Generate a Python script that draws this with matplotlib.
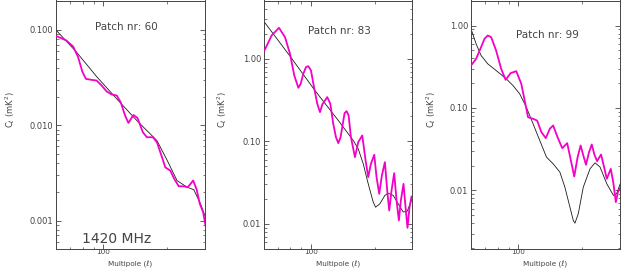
import matplotlib
matplotlib.use('Agg')
import matplotlib.pyplot as plt
from matplotlib.ticker import FixedLocator, FixedFormatter, LogLocator, NullFormatter

# ---------------- data ----------------
patch_names = ['Patch nr: 60', 'Patch nr: 83', 'Patch nr: 99']

# Patch 60
ell_p60_black = [60.3, 74.9, 93.0, 115.6, 143.6, 178.5, 198.9, 221.8, 247.2, 265.8, 285.7, 299.5]
cl_p60_black = [0.0984, 0.0583, 0.0324, 0.0189, 0.0112, 0.0069, 0.00433, 0.00263, 0.00224,
                0.00211, 0.00150, 0.00113]
ell_p60_pink = [60.3, 67.1, 72.2, 76.2, 79.9, 82.9, 88.1, 93.0, 98.2, 103.7, 109.5, 115.6, 120.7,
                126.6, 131.2, 138.5, 144.7, 153.3, 160.1, 170.9, 178.5, 188.5, 195.4, 206.3,
                215.4, 225.9, 238.4, 249.0, 258.2, 263.9, 273.6, 283.7, 294.1, 301.7]
cl_p60_pink = [0.0859, 0.0773, 0.0668, 0.0516, 0.0360, 0.0306, 0.0299, 0.0294, 0.0261, 0.0226,
               0.0210, 0.0205, 0.0174, 0.0126, 0.01057, 0.0128, 0.0119, 0.00845, 0.00748,
               0.00748, 0.00663, 0.00462, 0.00362, 0.00334, 0.00273, 0.00229, 0.00229, 0.00224,
               0.00247, 0.00263, 0.00215, 0.00150, 0.00122, 0.000887]

# Patch 83
ell_p83_black = [60.3, 79.6, 104.4, 134.6, 158.4, 167.2, 176.5, 186.4, 196.8, 201.8, 211.6,
                 223.4, 231.6, 244.5, 258.2, 272.6, 284.7, 298.5]
cl_p83_black = [2.78, 1.077, 0.413, 0.179, 0.1023, 0.0811, 0.0534, 0.0305, 0.0183, 0.0159,
                0.0175, 0.0221, 0.0235, 0.0221, 0.0175, 0.0139, 0.0142, 0.0192]
ell_p83_pink = [60.3, 65.2, 70.6, 75.4, 79.6, 83.4, 87.2, 89.4, 92.0, 94.7, 97.1, 100.0, 103.7,
                107.1, 110.3, 113.1, 119.4, 123.4, 127.4, 131.2, 134.6, 138.0, 144.1, 147.4,
                150.6, 154.4, 161.3, 167.2, 174.7, 181.1, 186.4, 191.9, 199.0, 204.0, 210.1,
                216.2, 223.4, 229.1, 234.2, 240.2, 247.2, 253.6, 260.1, 265.8, 273.6, 279.6,
                285.7, 292.0, 298.5]
cl_p83_pink = [1.262, 1.918, 2.376, 1.83, 1.150, 0.628, 0.445, 0.498, 0.658, 0.792, 0.815, 0.722,
               0.433, 0.285, 0.2257, 0.2796, 0.343, 0.285, 0.1630, 0.1123, 0.0950, 0.1123,
               0.2195, 0.232, 0.2056, 0.1123, 0.0643, 0.0977, 0.1177, 0.0586, 0.0368, 0.0534,
               0.0686, 0.0368, 0.0231, 0.0385, 0.0559, 0.0254, 0.0145, 0.0254, 0.0411, 0.0192,
               0.01098, 0.0192, 0.0305, 0.0159, 0.00894, 0.0159, 0.0214]

# Patch 99
ell_p99_black = [60.0, 63.4, 66.9, 71.9, 78.7, 87.8, 94.4, 101.5, 109.1, 117.3, 126.1, 135.6,
                 145.7, 156.7, 165.4, 174.7, 181.1, 184.4, 191.1, 201.8, 217.0, 229.1, 241.9,
                 260.1, 279.6, 289.9, 300.6]
cl_p99_black = [0.911, 0.5995, 0.433, 0.343, 0.2848, 0.2257, 0.1874, 0.1485, 0.1023, 0.0643,
                0.0404, 0.0254, 0.02104, 0.0167, 0.01098, 0.00628, 0.00433, 0.00402, 0.00521,
                0.01098, 0.0183, 0.02164, 0.0192, 0.01205, 0.0087, 0.00928, 0.01205]
ell_p99_pink = [60.0, 63.4, 66.9, 69.4, 71.9, 74.6, 78.7, 83.1, 87.2, 92.0, 97.8, 103.3, 111.1,
                117.3, 122.5, 128.4, 134.6, 140.5, 145.7, 152.8, 160.7, 169.6, 176.5, 183.0,
                189.8, 196.1, 201.8, 207.8, 214.7, 221.1, 227.5, 234.2, 244.5, 252.6, 260.1,
                271.6, 279.6, 286.8, 293.1, 300.6]
cl_p99_pink = [0.3273, 0.3944, 0.5463, 0.6894, 0.7565, 0.7221, 0.4977, 0.2984, 0.2195, 0.2644,
               0.2796, 0.1963, 0.0774, 0.0739, 0.0705, 0.0509, 0.0431, 0.0559, 0.0614, 0.0443,
               0.0326, 0.0375, 0.0231, 0.01478, 0.0254, 0.0351, 0.0266, 0.0205, 0.02915, 0.0361,
               0.0273, 0.02268, 0.0273, 0.0192, 0.01385, 0.0183, 0.01205, 0.00722, 0.00954,
               0.01077]

x_major = [100]
x_major_labels = ['100']
x_minor = [70, 80, 90, 200]

y_ticks = [[0.001, 0.01, 0.1], [0.01, 0.1, 1.0], [0.01, 0.1, 1.0]]
y_tick_labels = [['0.001', '0.010', '0.100'], ['0.01', '0.10', '1.00'], ['0.01', '0.10', '1.00']]
y_limits = [(0.00051, 0.203), (0.00502, 5.09), (0.00198, 2.01)]
x_limits = (60, 300)

blacks = [(ell_p60_black, cl_p60_black), (ell_p83_black, cl_p83_black), (ell_p99_black, cl_p99_black)]
pinks = [(ell_p60_pink, cl_p60_pink), (ell_p83_pink, cl_p83_pink), (ell_p99_pink, cl_p99_pink)]

# ---------------- layout ----------------
W, H = 621, 268
fig = plt.figure(figsize=(W / 100, H / 100), dpi=100)
fig.patch.set_facecolor('white')

panel_px = [(56, 149), (264, 148), (471, 149)]
name_pos = [(0.47, 0.895), (0.51, 0.875), (0.51, 0.859)]
ylabel_x = [10, 222, 431]
fg = '#444444'
pink = '#f400c8'

for i in range(3):
    left, width = panel_px[i]
    ax = fig.add_axes([left / W, 19.5 / H, width / W, 248 / H])
    ax.set_xscale('log')
    ax.set_yscale('log')
    ax.plot(blacks[i][0], blacks[i][1], color='#1a1a1a', lw=0.6, zorder=2)
    ax.plot(pinks[i][0], pinks[i][1], color=pink, lw=1.3, zorder=3,
            solid_joinstyle='round')
    ax.set_xlim(*x_limits)
    ax.set_ylim(*y_limits[i])

    ax.xaxis.set_major_locator(FixedLocator(x_major))
    ax.xaxis.set_major_formatter(FixedFormatter(x_major_labels))
    ax.xaxis.set_minor_locator(FixedLocator(x_minor))
    ax.xaxis.set_minor_formatter(NullFormatter())
    ax.yaxis.set_major_locator(FixedLocator(y_ticks[i]))
    ax.yaxis.set_major_formatter(FixedFormatter(y_tick_labels[i]))
    ax.yaxis.set_minor_locator(LogLocator(base=10, subs=[2, 3, 4, 5, 6, 7, 8, 9], numticks=20))
    ax.yaxis.set_minor_formatter(NullFormatter())

    ax.tick_params(which='both', direction='in', top=True, right=True, colors=fg)
    ax.tick_params(axis='x', pad=0.6, labelsize=5.2)
    ax.tick_params(axis='y', pad=2, labelsize=6)
    ax.tick_params(which='major', length=3.5, width=0.6)
    ax.tick_params(which='minor', length=1.8, width=0.5)
    for sp in ax.spines.values():
        sp.set_color(fg)
        sp.set_linewidth(0.7)

    ax.text(name_pos[i][0], name_pos[i][1], patch_names[i], transform=ax.transAxes,
            ha='center', va='center', fontsize=7.5, color=fg)

    fig.text(ylabel_x[i] / W, 1 - 110 / H, r'C$_\ell$ (mK$^2$)', rotation=90,
             ha='center', va='center', fontsize=6, color=fg)
    fig.text((left + width / 2) / W, 0.5 / H, 'Multipole (\u2113)',
             ha='center', va='bottom', fontsize=5.2, color=fg)

    if i == 0:
        ax.text(0.41, 0.04, '1420 MHz', transform=ax.transAxes, ha='center', va='center',
                fontsize=10, color=fg)

fig.savefig('out.png', dpi=100, facecolor='white')
